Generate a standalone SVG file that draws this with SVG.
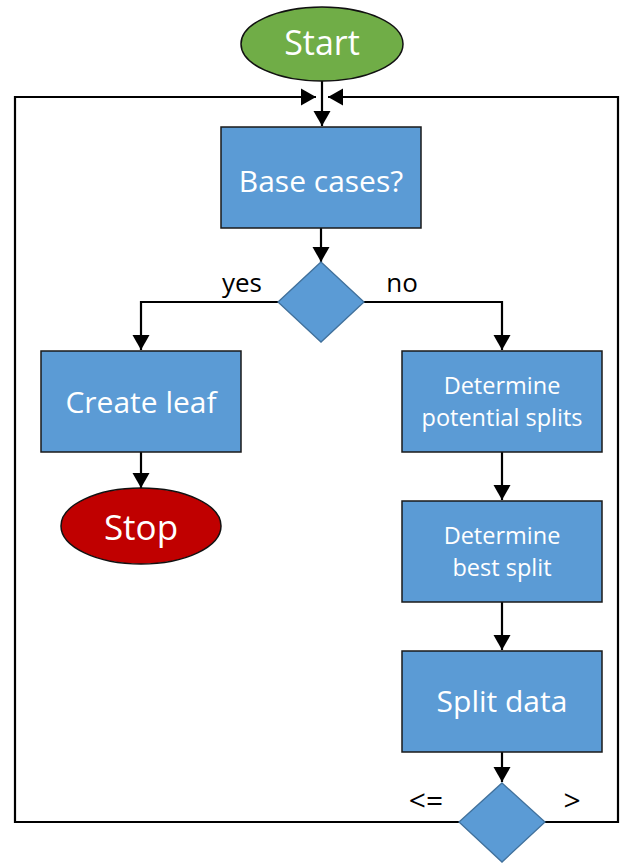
<svg xmlns="http://www.w3.org/2000/svg" width="628" height="864" viewBox="0 0 628 864">
<style>
.box{fill:#5B9BD5;stroke:#1a1a1a;stroke-width:1.5}
.dia{fill:#5B9BD5;stroke:#41719C;stroke-width:1.3}
.ell{stroke:#111;stroke-width:1.5}
.t{font-family:"Open Sans","Noto Sans","DejaVu Sans",sans-serif;fill:#fff;text-anchor:middle}
.lbl{font-family:"Open Sans","Noto Sans","DejaVu Sans",sans-serif;fill:#000;text-anchor:middle}
.ln{fill:none;stroke:#000;stroke-width:2.2}
</style>
<defs>
<marker id="ah" markerUnits="userSpaceOnUse" markerWidth="20" markerHeight="20" viewBox="0 0 20 20" refX="15" refY="10" orient="auto">
<path d="M0,1.5 L15,10 L0,18.5 Z" fill="#000"/>
</marker>
</defs>
<rect width="628" height="864" fill="#fff"/>
<g id="connectors">
<path class="ln" d="M322,81 V126" marker-end="url(#ah)"/>
<path class="ln" d="M459,822 H15 V97 H316" marker-end="url(#ah)"/>
<path class="ln" d="M545,822 H618 V97 H328" marker-end="url(#ah)"/>
<path class="ln" d="M321,228 V262" marker-end="url(#ah)"/>
<path class="ln" d="M278,302 H141 V350" marker-end="url(#ah)"/>
<path class="ln" d="M364,302 H502 V350" marker-end="url(#ah)"/>
<path class="ln" d="M141,452 V488" marker-end="url(#ah)"/>
<path class="ln" d="M502,452 V500" marker-end="url(#ah)"/>
<path class="ln" d="M502,602 V650" marker-end="url(#ah)"/>
<path class="ln" d="M502,752 V782" marker-end="url(#ah)"/>
<text class="lbl" x="242" y="292" font-size="26">yes</text>
<text class="lbl" x="402" y="292" font-size="26">no</text>
<text class="lbl" x="426" y="811" font-size="30">&lt;=</text>
<text class="lbl" x="572" y="811" font-size="30">&gt;</text>
</g>
<g id="start">
<ellipse class="ell" cx="322" cy="44" rx="81" ry="37" fill="#70AD47"/>
<text class="t" x="322" y="55" font-size="34">Start</text>
</g>
<g id="base">
<rect class="box" x="221" y="127" width="200" height="101"/>
<text class="t" x="321" y="192" font-size="30">Base cases?</text>
</g>
<g id="decision1">
<polygon class="dia" points="321,262 364,302 321,342 278,302"/>
</g>
<g id="leaf">
<rect class="box" x="41" y="351" width="200" height="101"/>
<text class="t" x="141" y="413" font-size="30">Create leaf</text>
</g>
<g id="stop">
<ellipse class="ell" cx="141" cy="526" rx="80" ry="38" fill="#C00000"/>
<text class="t" x="141" y="540" font-size="35">Stop</text>
</g>
<g id="potential">
<rect class="box" x="402" y="351" width="200" height="101"/>
<text class="t" x="502" y="394" font-size="23.5">Determine</text>
<text class="t" x="502" y="426" font-size="23.5">potential splits</text>
</g>
<g id="best">
<rect class="box" x="402" y="501" width="200" height="101"/>
<text class="t" x="502" y="544" font-size="23.5">Determine</text>
<text class="t" x="502" y="576" font-size="23.5">best split</text>
</g>
<g id="split">
<rect class="box" x="402" y="651" width="200" height="101"/>
<text class="t" x="502" y="712" font-size="30">Split data</text>
</g>
<g id="decision2">
<polygon class="dia" points="502,783 545,822 502,862 459,822"/>
</g>
</svg>
